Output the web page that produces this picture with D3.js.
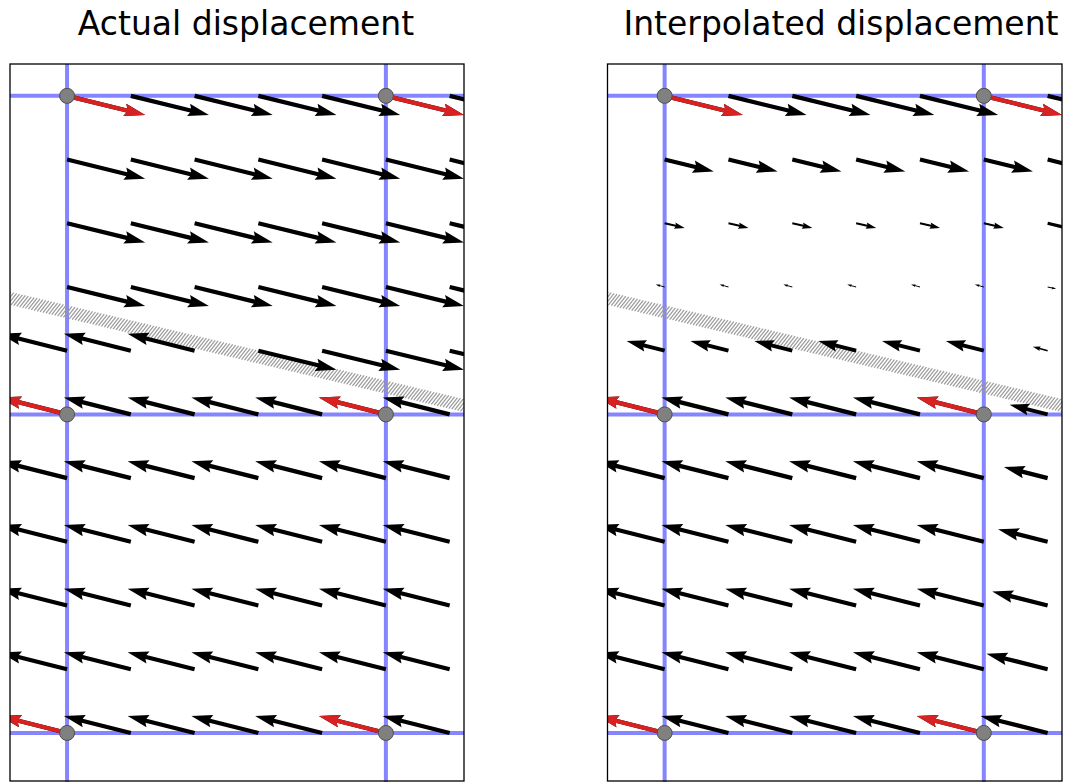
<!DOCTYPE html>
<html>
<head>
<meta charset="utf-8">
<script src="https://d3js.org/d3.v7.min.js"></script>
<style>
	body { margin: 0; background: #fff; }
</style>
</head>
<body>
<div class="chart"></div>
<script>
var w = 1071, h = 782;

// arrow tails, data units (one node cell = 1)
var xs = [0, 0.2, 0.4, 0.6, 0.8, 1.0, 1.2];
var ys = [2.0, 1.8, 1.6, 1.4, 1.2, 1.0, 0.8, 0.6, 0.4, 0.2, 0.0];
// node lines and nodes
var gridX = [0, 1];
var gridY = [0, 1, 2];
var nodeX = [0, 1, 0, 1, 0, 1];
var nodeY = [2, 2, 1, 1, 0, 0];
var nodeW = [1, 1, 0, 0, 0, 0];
// displacement of the block above / below the fault
var upDisp = [0.245, -0.06];
var downDisp = [-0.21, 0.053];
// fault trace
var fault = [[-0.3, 1.393], [1.4, 0.991]];

// share of the upper block displacement, one row per ys
var actualW = [
	[1, 1, 1, 1, 1, 1, 1],
	[1, 1, 1, 1, 1, 1, 1],
	[1, 1, 1, 1, 1, 1, 1],
	[1, 1, 1, 1, 1, 1, 1],
	[0, 0, 0, 1, 1, 1, 1],
	[0, 0, 0, 0, 0, 0, 0],
	[0, 0, 0, 0, 0, 0, 0],
	[0, 0, 0, 0, 0, 0, 0],
	[0, 0, 0, 0, 0, 0, 0],
	[0, 0, 0, 0, 0, 0, 0],
	[0, 0, 0, 0, 0, 0, 0]
];
var interpW = [
	[1, 1, 1, 1, 1, 1, 1],
	[0.8, 0.8, 0.8, 0.8, 0.8, 0.8, 0.84],
	[0.6, 0.6, 0.6, 0.6, 0.6, 0.6, 0.68],
	[0.4, 0.4, 0.4, 0.4, 0.4, 0.4, 0.52],
	[0.2, 0.2, 0.2, 0.2, 0.2, 0.2, 0.36],
	[0, 0, 0, 0, 0, 0, 0.2],
	[0, 0, 0, 0, 0, 0, 0.16],
	[0, 0, 0, 0, 0, 0, 0.12],
	[0, 0, 0, 0, 0, 0, 0.08],
	[0, 0, 0, 0, 0, 0, 0.04],
	[0, 0, 0, 0, 0, 0, 0]
];

var panels = [
	{title: "Actual displacement", weights: actualW, left: 10, right: 464, titleX: 246},
	{title: "Interpolated displacement", weights: interpW, left: 607.5, right: 1062, titleX: 841}
];

var svg = d3.select(".chart")
	.append("svg")
	.attr("width", w)
	.attr("height", h);

var top0 = 64, bottom0 = 782;

// matplotlib style quiver arrow, length in px (short ones shrink as a whole)
function arrowPath(L) {
	var sw = 4.2, hl = 5, hal = 4.5, hw = 3, minshaft = 2;
	var Lw = L / sw;
	var minsh = minshaft * hl;
	var pts;
	if (Lw < minsh) {
		var s = Lw / minsh;
		pts = [[0, 0.5], [minsh - hal, 0.5], [minsh - hl, hw / 2], [minsh, 0], [minsh - hl, -hw / 2], [minsh - hal, -0.5], [0, -0.5]]
			.map(function(p) { return [p[0] * s, p[1] * s]; });
	} else {
		pts = [[0, 0.5], [Lw - hal, 0.5], [Lw - hl, hw / 2], [Lw, 0], [Lw - hl, -hw / 2], [Lw - hal, -0.5], [0, -0.5]];
	}
	return "M" + pts.map(function(p) { return (p[0] * sw).toFixed(2) + "," + (p[1] * sw).toFixed(2); }).join("L") + "Z";
}

function disp(a) {
	return [a * upDisp[0] + (1 - a) * downDisp[0], a * upDisp[1] + (1 - a) * downDisp[1]];
}

panels.forEach(function(p, pi) {
	var x = d3.scaleLinear().domain([-0.179, 1.245]).range([p.left, p.right]);
	var y = d3.scaleLinear().domain([2.1, -0.154]).range([top0, bottom0]);

	svg.append("text")
		.attr("x", p.titleX)
		.attr("y", 35)
		.attr("text-anchor", "middle")
		.style("font-family", "DejaVu Sans")
		.style("font-size", "33px")
		.text(p.title);

	svg.append("clipPath").attr("id", "clip" + pi)
		.append("rect")
		.attr("x", p.left).attr("y", top0)
		.attr("width", p.right - p.left).attr("height", bottom0 - top0);

	var g = svg.append("g").attr("clip-path", "url(#clip" + pi + ")");

	// node lines
	g.selectAll("line.gx").data(gridX).enter().append("line")
		.attr("x1", function(d) { return x(d); }).attr("x2", function(d) { return x(d); })
		.attr("y1", top0).attr("y2", bottom0)
		.attr("stroke", "#8585ff").attr("stroke-width", 4);
	g.selectAll("line.gy").data(gridY).enter().append("line")
		.attr("y1", function(d) { return y(d); }).attr("y2", function(d) { return y(d); })
		.attr("x1", p.left).attr("x2", p.right)
		.attr("stroke", "#8585ff").attr("stroke-width", 4);

	// fault, drawn as a ticked stroke
	var f0 = [x(fault[0][0]), y(fault[0][1])], f1 = [x(fault[1][0]), y(fault[1][1])];
	var len = Math.hypot(f1[0] - f0[0], f1[1] - f0[1]);
	var ang = Math.atan2(f1[1] - f0[1], f1[0] - f0[0]);
	var ta = ang - 65 * Math.PI / 180, tl = 7;
	var ticks = d3.range(0, len, 3);
	g.append("g").selectAll("line").data(ticks).enter().append("line")
		.attr("x1", function(t) { return f0[0] + t * Math.cos(ang) - tl * Math.cos(ta); })
		.attr("y1", function(t) { return f0[1] + t * Math.sin(ang) - tl * Math.sin(ta); })
		.attr("x2", function(t) { return f0[0] + t * Math.cos(ang) + tl * Math.cos(ta); })
		.attr("y2", function(t) { return f0[1] + t * Math.sin(ang) + tl * Math.sin(ta); })
		.attr("stroke", "#9a9a9a").attr("stroke-width", 1.2);

	// black arrows
	var arrows = [];
	ys.forEach(function(yy, i) {
		xs.forEach(function(xx, j) {
			arrows.push({x: xx, y: yy, d: disp(p.weights[i][j])});
		});
	});
	var nodes = nodeX.map(function(nx, k) { return {x: nx, y: nodeY[k], d: disp(nodeW[k])}; });

	function drawArrows(sel, color) {
		sel.append("path")
			.attr("d", function(a) {
				var dx = x(a.x + a.d[0]) - x(a.x), dy = y(a.y + a.d[1]) - y(a.y);
				return arrowPath(Math.hypot(dx, dy));
			})
			.attr("transform", function(a) {
				var dx = x(a.x + a.d[0]) - x(a.x), dy = y(a.y + a.d[1]) - y(a.y);
				return "translate(" + x(a.x) + "," + y(a.y) + ") rotate(" + (Math.atan2(dy, dx) * 180 / Math.PI) + ")";
			})
			.attr("fill", color);
	}
	drawArrows(g.append("g").selectAll("g").data(arrows).enter(), "#000");
	drawArrows(g.append("g").selectAll("g").data(nodes).enter(), "#d92121");

	g.selectAll("circle").data(nodes).enter().append("circle")
		.attr("cx", function(d) { return x(d.x); })
		.attr("cy", function(d) { return y(d.y); })
		.attr("r", 7.5)
		.attr("fill", "#808080").attr("stroke", "#4d4d4d").attr("stroke-width", 1);

	svg.append("rect")
		.attr("x", p.left).attr("y", top0)
		.attr("width", p.right - p.left).attr("height", bottom0 - top0 - 1)
		.attr("fill", "none").attr("stroke", "#000").attr("stroke-width", 1.3);
});
</script>
</body>
</html>
